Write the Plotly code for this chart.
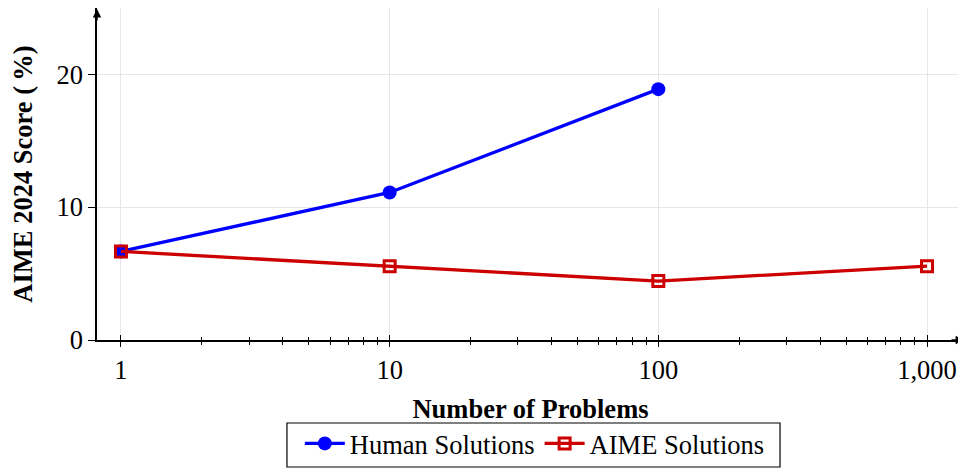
import plotly.graph_objects as go

# ---- data ----
human_x = [1, 10, 100]
human_scores = [6.67, 11.11, 18.89]
aime_x = [1, 10, 100, 1000]
aime_scores = [6.67, 5.56, 4.44, 5.56]
x_tick_vals = [1, 10, 100, 1000]
x_tick_text = ["1", "10", "100", "1,000"]
y_tick_vals = [0, 10, 20]

FONT = "Liberation Serif"
FS = 26.5
BLUE = "#0000ff"
RED = "#cc0000"
GRID = "#e6e6e6"

minor_vals = [m * d for d in (1, 10, 100) for m in range(2, 10)]
xr = [-0.0893, 3.1377]

fig = go.Figure()
fig.add_trace(go.Scatter(
    x=human_x, y=human_scores, name="Human Solutions", mode="lines+markers",
    line=dict(color=BLUE, width=3.3),
    marker=dict(symbol="circle", size=14, color=BLUE),
))
fig.add_trace(go.Scatter(
    x=aime_x, y=aime_scores, name="AIME Solutions", mode="lines+markers",
    line=dict(color=RED, width=3.3),
    marker=dict(symbol="square-open", size=11, color=RED, line=dict(width=3, color=RED)),
))
# helper (empty) trace for the overlay axis that draws the inner half of ticks
fig.add_trace(go.Scatter(x=[], y=[], xaxis="x2", yaxis="y", showlegend=False, hoverinfo="skip"))

fig.update_layout(
    width=958, height=460,
    margin=dict(l=89, r=2, t=0, b=128, autoexpand=False),
    paper_bgcolor="white", plot_bgcolor="white",
    font=dict(family=FONT, size=FS, color="black"),
    xaxis=dict(
        type="log", range=xr, automargin=False,
        tickvals=x_tick_vals, ticktext=x_tick_text,
        ticks="outside", ticklen=5, tickwidth=1.3, tickcolor="black",
        showgrid=True, gridcolor=GRID, gridwidth=1,
        showline=True, linecolor="black", linewidth=1.6,
        zeroline=False,
        minor=dict(tickvals=minor_vals, ticks="outside", ticklen=3, tickwidth=1, tickcolor="black", showgrid=False),
        title=dict(text="Number of Problems", font=dict(family=FONT, size=FS, weight="bold"), standoff=16),
        tickfont=dict(family=FONT, size=FS),
    ),
    xaxis2=dict(
        type="log", range=xr, overlaying="x", anchor="y", side="bottom",
        tickvals=x_tick_vals, showticklabels=False,
        ticks="inside", ticklen=5, tickwidth=1.3, tickcolor="black",
        showgrid=False, showline=False, zeroline=False,
        minor=dict(tickvals=minor_vals, ticks="inside", ticklen=3, tickwidth=1, tickcolor="black", showgrid=False),
    ),
    yaxis=dict(
        range=[0, 25], tickvals=y_tick_vals, automargin=False,
        ticks="outside", ticklen=7, tickwidth=1.3, tickcolor="black",
        showgrid=True, gridcolor=GRID, gridwidth=1,
        showline=True, linecolor="black", linewidth=1.6,
        zeroline=False,
        title=dict(text="AIME 2024 Score (\u2009%)", font=dict(family=FONT, size=FS, weight="bold"), standoff=20),
        tickfont=dict(family=FONT, size=FS),
    ),
    legend=dict(
        orientation="h", x=0.505, xanchor="center", y=-0.24, yanchor="top",
        borderwidth=0, bgcolor="rgba(0,0,0,0)",
        font=dict(family=FONT, size=FS), itemwidth=40, tracegroupgap=0,
    ),
    showlegend=True,
)

# legend frame (wider padding than plotly's own legend border)
fig.add_shape(type="rect", xref="paper", yref="paper", x0=0.2191, x1=0.7878, y0=-0.3825, y1=-0.25,
              line=dict(color="black", width=1.2), fillcolor="rgba(0,0,0,0)", layer="above")

# axis arrows
fig.add_annotation(x=0, y=1, xref="paper", yref="paper", ax=0, ay=14, axref="pixel", ayref="pixel",
                   showarrow=True, arrowhead=2, arrowsize=1.2, arrowwidth=1.4, arrowcolor="black", text="", standoff=0)
fig.add_annotation(x=1, y=0, xref="paper", yref="paper", ax=-14, ay=0, axref="pixel", ayref="pixel",
                   showarrow=True, arrowhead=2, arrowsize=1.2, arrowwidth=1.4, arrowcolor="black", text="", standoff=0)

fig.write_html("out.html")
